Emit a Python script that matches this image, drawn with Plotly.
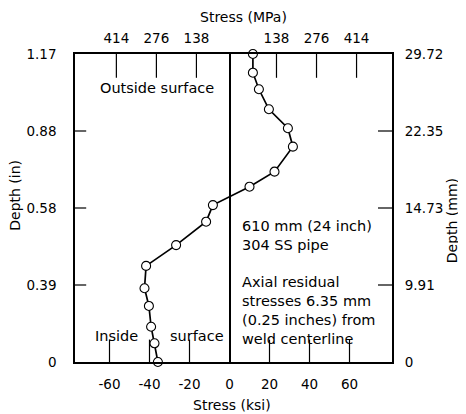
import plotly.graph_objects as go

# ---- data ----
stress_ksi = [11.7, 11.7, 14.7, 19.7, 29.2, 31.7, 22.5, 10.0, -8.3, -11.7,
              -26.7, -41.7, -42.5, -40.3, -39.2, -37.5, -35.8]
depth_in = [1.17, 1.099, 1.036, 0.960, 0.888, 0.818, 0.723, 0.666, 0.596, 0.533,
            0.444, 0.365, 0.280, 0.213, 0.134, 0.071, 0.0]

ksi_ticks = [-60, -40, -20, 0, 20, 40, 60]
ksi_tick_labels = ["-60", "-40", "-20", "0", "20", "40", "60"]
mpa_ticks = [-414, -276, -138, 138, 276, 414]
mpa_tick_labels = ["414", "276", "138", "138", "276", "414"]
depth_tick_pos_in = [0, 0.2925, 0.585, 0.8775, 1.17]   # labels are drawn equally spaced
depth_tick_labels_in = ["0", "0.39", "0.58", "0.88", "1.17"]
depth_tick_labels_mm = ["0", "9.91", "14.73", "22.35", "29.72"]

KSI_TO_MPA = 6.895
IN_TO_MM = 25.4
X_RANGE = [-77.25, 81.25]
Y_RANGE = [0, 1.17]
TOP_OFFSET_MPA = 24  # top scale is printed slightly shifted in the scan

FONT = "DejaVu Sans, Liberation Sans, Arial, sans-serif"
CLEAR = "rgba(0,0,0,0)"

mpa_range = [X_RANGE[0] * KSI_TO_MPA - TOP_OFFSET_MPA, X_RANGE[1] * KSI_TO_MPA - TOP_OFFSET_MPA]
mm_range = [Y_RANGE[0] * IN_TO_MM, Y_RANGE[1] * IN_TO_MM]
mm_tick_pos = [p * IN_TO_MM for p in depth_tick_pos_in]

fig = go.Figure()


def tick_marks(xs, ys, symbol, size, xaxis="x", yaxis="y"):
    # tick marks centred on the frame; the half outside the plot area is clipped away
    fig.add_trace(go.Scatter(
        x=xs, y=ys, xaxis=xaxis, yaxis=yaxis, mode="markers", cliponaxis=True,
        marker=dict(symbol=symbol, size=size, color="black",
                    line=dict(color="black", width=1.2)),
        showlegend=False, hoverinfo="skip"))


bottom_ticks = [t for t in ksi_ticks if t != 0]
inner_in = depth_tick_pos_in[1:-1]
inner_mm = mm_tick_pos[1:-1]
tick_marks(bottom_ticks, [Y_RANGE[0]] * len(bottom_ticks), "line-ns", 32)
tick_marks([X_RANGE[0]] * len(inner_in), inner_in, "line-ew", 16)
tick_marks(mpa_ticks, [mm_range[1]] * len(mpa_ticks), "line-ns", 34, "x2", "y2")
tick_marks([mpa_range[1]] * len(inner_mm), inner_mm, "line-ew", 20, "x2", "y2")

fig.add_trace(go.Scatter(
    x=stress_ksi, y=depth_in, mode="lines+markers",
    line=dict(color="black", width=1.7),
    marker=dict(symbol="circle", size=9, color="white",
                line=dict(color="black", width=1.1)),
    cliponaxis=False, showlegend=False, hoverinfo="skip"))

axis_font = dict(family=FONT, size=13.5, color="black")
title_font = dict(family=FONT, size=14, color="black")
label_style = dict(ticks="outside", tickcolor=CLEAR, showgrid=False,
                   tickfont=axis_font, automargin=False)

fig.update_layout(
    width=458, height=406,
    margin=dict(l=67, r=74, t=46, b=52, autoexpand=False),
    paper_bgcolor="white", plot_bgcolor="white",
    font=dict(family=FONT, color="black"),
    xaxis=dict(range=X_RANGE, tickvals=ksi_ticks, ticktext=ksi_tick_labels, ticklen=9,
               showline=True, linecolor="black", linewidth=1.5, mirror=True,
               zeroline=True, zerolinecolor="black", zerolinewidth=1.5, **label_style),
    yaxis=dict(range=Y_RANGE, tickvals=depth_tick_pos_in, ticktext=depth_tick_labels_in,
               ticklen=14, showline=True, linecolor="black", linewidth=1.5, mirror=True,
               zeroline=False, **label_style),
    xaxis2=dict(range=mpa_range, overlaying="x", side="top", anchor="y",
                tickvals=mpa_ticks, ticktext=mpa_tick_labels, ticklen=5,
                showline=False, zeroline=False, **label_style),
    yaxis2=dict(range=mm_range, overlaying="y", side="right", anchor="x",
                tickvals=mm_tick_pos, ticktext=depth_tick_labels_mm, ticklen=9,
                showline=False, zeroline=False, **label_style),
)

title_specs = [
    ("Stress (ksi)", 0.495, -0.14, 0),
    ("Stress (MPa)", 0.53, 1.12, 0),
    ("Depth (in)", -0.189, 0.54, -90),
    ("Depth (mm)", 1.189, 0.46, -90),
]
for txt, x, y, ang in title_specs:
    fig.add_annotation(text=txt, x=x, y=y, xref="paper", yref="paper",
                       xanchor="center", yanchor="middle", textangle=ang,
                       showarrow=False, font=title_font)

ann_font = dict(family=FONT, size=14.5, color="black")
notes = [
    ("Outside surface", 0.073, 0.89),
    ("Inside", 0.057, 0.084),
    ("surface", 0.293, 0.084),
    ("610 mm (24 inch)<br>304 SS pipe", 0.52, 0.412),
    ("Axial residual<br>stresses 6.35 mm<br>(0.25 inches) from<br>weld centerline", 0.52, 0.167),
]
for txt, x, y in notes:
    fig.add_annotation(text=txt, x=x, y=y, xref="paper", yref="paper",
                       xanchor="left", yanchor="middle", align="left",
                       showarrow=False, font=ann_font)

fig.write_html("out.html")
